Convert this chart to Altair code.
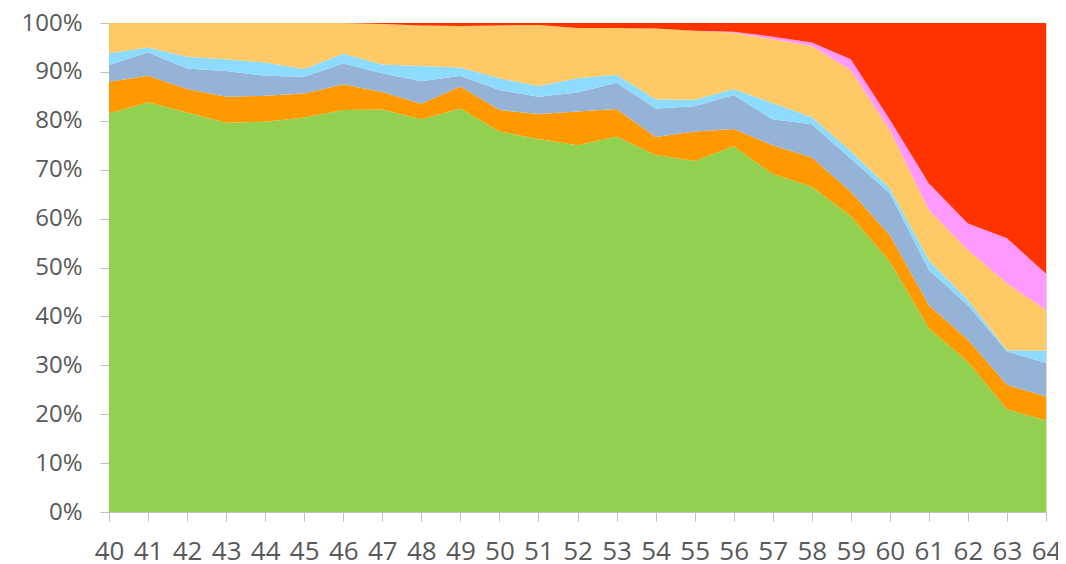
import altair as alt
import pandas as pd

years = list(range(40, 65))

series_names = ["A", "B", "C", "D", "E", "F", "G"]
series_colors = ["#92D050", "#FF9900", "#95B3D7", "#8DDCFF", "#FFC966", "#FF99FF", "#FF3300"]

green = [81.5, 83.8, 81.7, 79.6, 79.8, 80.7, 82.2, 82.3, 80.3, 82.5, 77.8, 76.3, 75.0,
         76.8, 73.0, 71.8, 74.8, 69.1, 66.5, 60.5, 51.2, 37.6, 30.7, 21.0, 18.7]
orange = [6.5, 5.4, 4.8, 5.3, 5.3, 4.9, 5.3, 3.6, 3.2, 4.5, 4.4, 5.1, 6.9,
          5.6, 3.7, 6.0, 3.5, 5.9, 6.0, 5.0, 5.4, 4.7, 4.5, 5.0, 4.9]
bluegray = [3.4, 4.8, 4.2, 5.3, 4.1, 3.4, 4.2, 3.8, 4.6, 2.2, 4.1, 3.5, 3.9,
            5.4, 5.8, 5.2, 7.0, 5.3, 6.8, 6.8, 8.6, 7.2, 7.1, 6.8, 6.9]
lightblue = [2.4, 1.0, 2.4, 2.4, 2.7, 1.6, 2.0, 1.8, 3.1, 1.7, 2.4, 2.2, 2.9,
             1.6, 1.9, 1.3, 1.2, 3.3, 1.5, 1.5, 1.0, 2.0, 1.1, 0.3, 2.5]
yellow = [6.2, 5.0, 6.9, 7.4, 8.1, 9.4, 6.3, 8.3, 8.3, 8.5, 10.8, 12.5, 10.3,
          9.6, 14.5, 14.1, 11.5, 13.1, 14.5, 16.6, 11.9, 10.3, 10.2, 13.7, 8.3]
pink = [0, 0, 0, 0, 0, 0, 0, 0, 0, 0, 0, 0, 0,
        0, 0, 0, 0.2, 0.5, 0.7, 2.2, 2.1, 5.4, 5.4, 9.2, 7.4]
red = [0, 0, 0, 0, 0, 0, 0, 0.2, 0.5, 0.6, 0.5, 0.4, 1.0,
       1.0, 1.1, 1.6, 1.8, 2.8, 4.0, 7.4, 19.8, 32.8, 41.0, 44.0, 51.3]

all_series = [green, orange, bluegray, lightblue, yellow, pink, red]

rows = []
for i, (name, vals) in enumerate(zip(series_names, all_series)):
    for x, v in zip(years, vals):
        rows.append({"x": x, "value": v, "series": name, "ord": i})
df = pd.DataFrame(rows)

font = "Open Sans"

chart = alt.Chart(df).mark_area(interpolate="linear").encode(
    x=alt.X("x:Q",
            scale=alt.Scale(domain=[40, 64], nice=False, zero=False),
            axis=alt.Axis(values=years, title=None, grid=False, format="d",
                          labelFontSize=26, labelColor="#595959", labelFont=font,
                          tickSize=9, tickColor="#BFBFBF", domainColor="#BFBFBF",
                          labelPadding=17, labelFlush=False)),
    y=alt.Y("value:Q", stack="normalize",
            scale=alt.Scale(domain=[0, 1], nice=False),
            axis=alt.Axis(values=[i / 10 for i in range(11)], format=".0%", title=None,
                          grid=False, labelFontSize=24, labelColor="#595959", labelFont=font,
                          tickSize=9, tickColor="#BFBFBF", domainColor="#BFBFBF",
                          labelPadding=18)),
    color=alt.Color("series:N",
                    scale=alt.Scale(domain=series_names, range=series_colors),
                    legend=None),
    order=alt.Order("ord:Q", sort="ascending"),
).properties(
    width=937,
    height=489,
    autosize=alt.AutoSizeParams(type="none"),
    padding={"left": 101, "top": 15, "right": 12, "bottom": 52},
).configure_view(
    stroke="#D9D9D9", strokeWidth=1
)

chart.save("out.html", embed_options={"renderer": "svg", "actions": False})
